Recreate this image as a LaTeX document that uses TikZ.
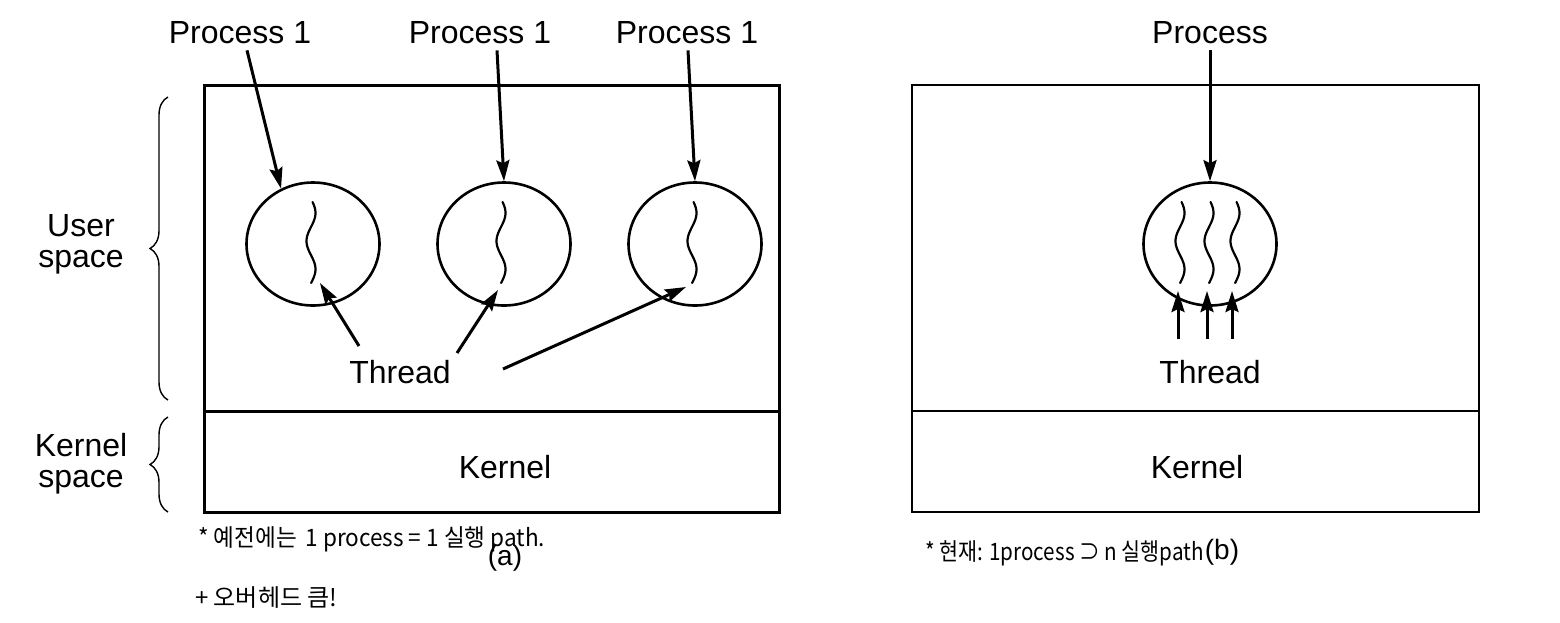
\documentclass[tikz,border=0pt]{standalone}
\usepackage{fontspec}
\setmainfont{Liberation Sans}
\newfontfamily\krfont{Noto Sans CJK KR}
\usetikzlibrary{arrows.meta,decorations.pathreplacing,shapes.geometric}
\begin{document}
\begin{tikzpicture}[x=1pt,y=-1pt,
  lbl/.style={font=\fontsize{32}{31}\selectfont, inner sep=0pt, align=center},
  hand/.style={font=\krfont\fontsize{24}{28}\selectfont, inner sep=0pt, anchor=west},
  arr/.style={line width=3pt, -{Stealth[length=21pt,width=13pt,inset=3pt]}},
  boxA/.style={draw, line width=3pt},
  boxB/.style={draw, line width=2pt},
  proc/.style={draw, ellipse, line width=2.6pt, minimum width=133pt, minimum height=123pt, inner sep=0pt},
  squig/.style={line width=2.2pt, line cap=round},
  brc/.style={decorate, decoration={brace, amplitude=18pt}, line width=1.4pt}
]
\useasboundingbox (0,0) rectangle (1560,622);

% boxes
\draw[boxA] (204,85) rectangle (779,512);
\draw[boxA] (204,411) -- (779,411);
\draw[boxB] (912,85) rectangle (1479,512);
\draw[boxB] (912,411) -- (1479,411);

% labels
\node[lbl] (p1) at (240,33) {Process 1};
\node[lbl] (p2) at (480,33) {Process 1};
\node[lbl] (p3) at (687,33) {Process 1};
\node[lbl] (pr) at (1210,33) {Process};
\node[lbl] (th) at (400,372) {Thread};
\node[lbl] (thr) at (1210,372) {Thread};
\node[lbl] (kl) at (505,467) {Kernel};
\node[lbl] (kr) at (1197,467) {Kernel};
\node[lbl] (us) at (81,244) {User\\space};
\node[lbl] (ks) at (81,464) {Kernel\\space};
\node[font=\fontsize{28}{30}\selectfont, inner sep=0pt] (la) at (505,558) {(a)};
\node[font=\fontsize{28}{30}\selectfont, inner sep=0pt] (lb) at (1222,552) {(b)};

% braces
\draw[brc] (168,400) -- (168,97);
\draw[brc] (168,512) -- (168,417);

% processes
\node[proc] (c1) at (313,244) {};
\node[proc] (c2) at (504,244) {};
\node[proc] (c3) at (695,244) {};
\node[proc] (cr) at (1210,244) {};

% squiggles
\foreach \cx/\nm in {311/s1, 501/s2, 692/s3, 1180/r1, 1209/r2, 1235/r3}{
  \draw[squig] plot[domain=0:81, samples=50, smooth] ({\cx + 4.5*sin(\x*6.4 + 20)}, {202+\x});
  \coordinate (\nm) at ({\cx + 4.5*sin(81*6.4+20)}, 283);
}

% process arrows
\draw[arr] ([xshift=7pt,yshift=-6pt]p1.south) -- (c1.120);
\draw[arr] ([xshift=17pt,yshift=-6pt]p2.south) -- (c2.north);
\draw[arr] ([xshift=1pt,yshift=-6pt]p3.south) -- (c3.north);
\draw[arr] ([yshift=-6pt]pr.south) -- (cr.north);

% thread arrows (a)
\coordinate (ta1) at (359,346);
\coordinate (ta2) at (457,353);
\coordinate (ta3) at (503,369);
\coordinate (h1) at (320,283);
\coordinate (h2) at (498,290);
\coordinate (h3) at (686,287);
\draw[arr] (ta1) -- (h1);
\draw[arr] (ta2) -- (h2);
\draw[arr] (ta3) -- (h3);

% thread arrows (b)
\foreach \x/\nm in {1178/r1, 1207/r2, 1232/r3}{
  \coordinate (t\nm) at (\x,339);
  \draw[arr] (t\nm) -- (\x,291);
}

% handwritten notes
\node[hand] (n1) at (198,539) {\scalebox{0.94}[1]{* 예전에는 \,1 process = 1 실행 path.}};
\node[hand] (n2) at (195,598) {+ 오버헤드 큼!};
\node[hand] (n3) at (925,553) {\scalebox{0.86}[1]{* 현재: 1process ⊃ n 실행path}};
\end{tikzpicture}
\end{document}
